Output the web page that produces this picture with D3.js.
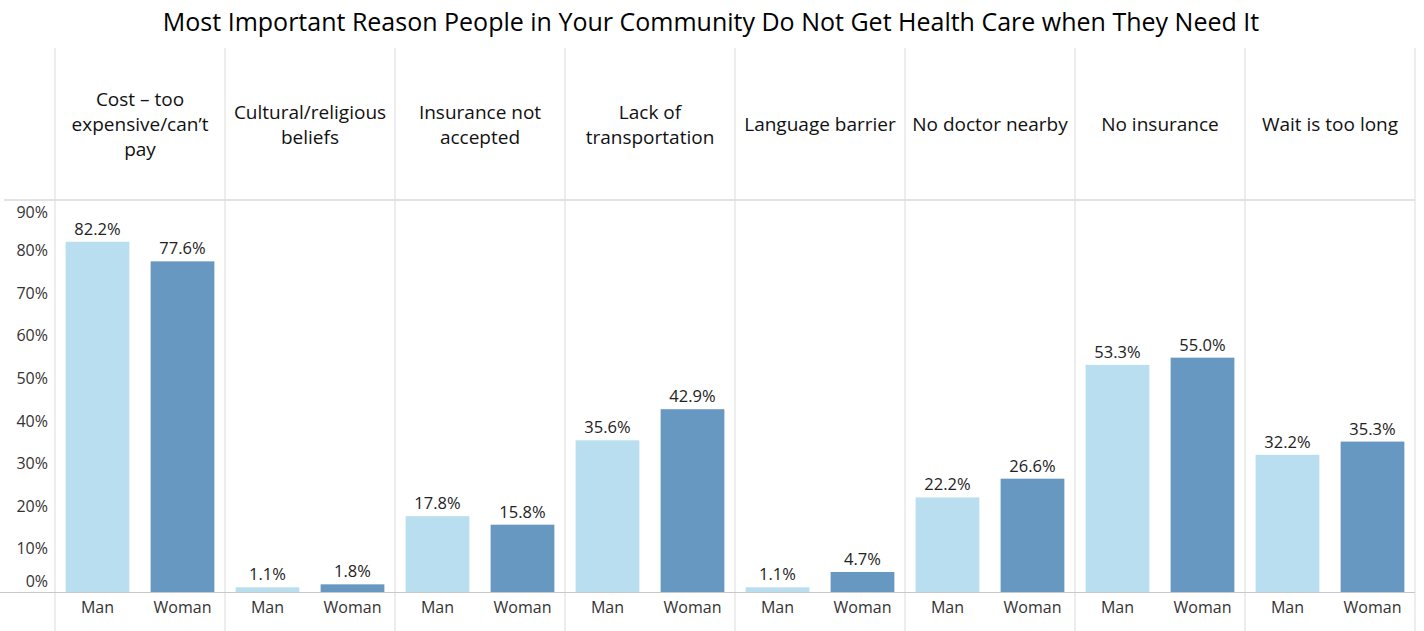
<!DOCTYPE html>
<html><head><meta charset="utf-8">
<script src="https://cdn.jsdelivr.net/npm/d3@7"></script>
<style>
body{margin:0;background:#fff;}
svg{display:block;font-family:"Open Sans","Noto Sans",sans-serif;}
</style></head>
<body><svg id="c" width="1424" height="631"></svg>
<script>
const title = "Most Important Reason People in Your Community Do Not Get Health Care when They Need It";
const categories = ["Cost – too expensive/can’t pay","Cultural/religious beliefs","Insurance not accepted","Lack of transportation","Language barrier","No doctor nearby","No insurance","Wait is too long"];
const categoryLines = [["Cost – too","expensive/can’t","pay"],["Cultural/religious","beliefs"],["Insurance not","accepted"],["Lack of","transportation"],["Language barrier"],["No doctor nearby"],["No insurance"],["Wait is too long"]];
const genders = ["Man","Woman"];
const manValues = [82.2,1.1,17.8,35.6,1.1,22.2,53.3,32.2];
const womanValues = [77.6,1.8,15.8,42.9,4.7,26.6,55.0,35.3];
const yTicks = [0,10,20,30,40,50,60,70,80,90];

const svg = d3.select("#c");
const W = 1424, H = 631;
const left = 55, right = 1415, headerTop = 48, headerBottom = 200, base = 592;
const colors = {Man:"#b9def0", Woman:"#6798c1"};

const x0 = d3.scaleBand().domain(categories).range([left,right]);
const x1 = d3.scaleBand().domain(genders).range([0,x0.bandwidth()]).paddingInner(0.25).paddingOuter(0.125);
const y = d3.scaleLinear().domain([0,92]).range([base,headerBottom]);

svg.append("text").attr("x",711).attr("y",31).attr("text-anchor","middle")
  .attr("font-size",25).attr("fill","#000").text(title);

// grid lines
svg.append("line").attr("x1",4).attr("x2",right).attr("y1",headerBottom).attr("y2",headerBottom)
  .attr("stroke","#e3e3e3").attr("stroke-width",2);
categories.forEach((c,i)=>{
  svg.append("line").attr("x1",x0(c)).attr("x2",x0(c)).attr("y1",headerTop).attr("y2",H)
    .attr("stroke","#dcdcdc").attr("stroke-width",1);
});
svg.append("line").attr("x1",right).attr("x2",right).attr("y1",headerTop).attr("y2",H)
  .attr("stroke","#dcdcdc").attr("stroke-width",1);

// headers
categories.forEach((c,i)=>{
  const lines = categoryLines[i];
  const cx = x0(c)+x0.bandwidth()/2;
  const lh = 25, mid = 131;
  const t = svg.append("text").attr("text-anchor","middle").attr("font-size",19).attr("fill","#111");
  lines.forEach((l,j)=>{
    t.append("tspan").attr("x",cx).attr("y",mid + (j-(lines.length-1)/2)*lh).text(l);
  });
});

// y axis labels
yTicks.forEach(v=>{
  let yy = y(v)+5;
  if(v===0) yy = y(v)-5;
  if(v===90) yy = y(v)+9;
  svg.append("text").attr("x",48).attr("y",yy).attr("text-anchor","end")
    .attr("font-size",16).attr("fill","#333").text(v+"%");
});

// bars
const data = categories.map((c,i)=>({cat:c, vals:[{g:"Man",v:manValues[i]},{g:"Woman",v:womanValues[i]}]}));
const grp = svg.append("g").selectAll("g").data(data).join("g").attr("transform",d=>`translate(${x0(d.cat)},0)`);
grp.selectAll("rect").data(d=>d.vals).join("rect")
  .attr("x",d=>x1(d.g)).attr("width",x1.bandwidth())
  .attr("y",d=>y(d.v)).attr("height",d=>base-y(d.v)).attr("fill",d=>colors[d.g]);
grp.selectAll("text.v").data(d=>d.vals).join("text").attr("class","v")
  .attr("x",d=>x1(d.g)+x1.bandwidth()/2).attr("y",d=>y(d.v)-7)
  .attr("text-anchor","middle").attr("font-size",16.5).attr("fill","#222")
  .text(d=>d.v.toFixed(1)+"%");
grp.selectAll("text.g").data(d=>d.vals).join("text").attr("class","g")
  .attr("x",d=>x1(d.g)+x1.bandwidth()/2).attr("y",613)
  .attr("text-anchor","middle").attr("font-size",16).attr("fill","#333")
  .text(d=>d.g);

svg.append("line").attr("x1",0).attr("x2",right).attr("y1",base+0.5).attr("y2",base+0.5)
  .attr("stroke","#c8c8c8").attr("stroke-width",1);
</script></body></html>
